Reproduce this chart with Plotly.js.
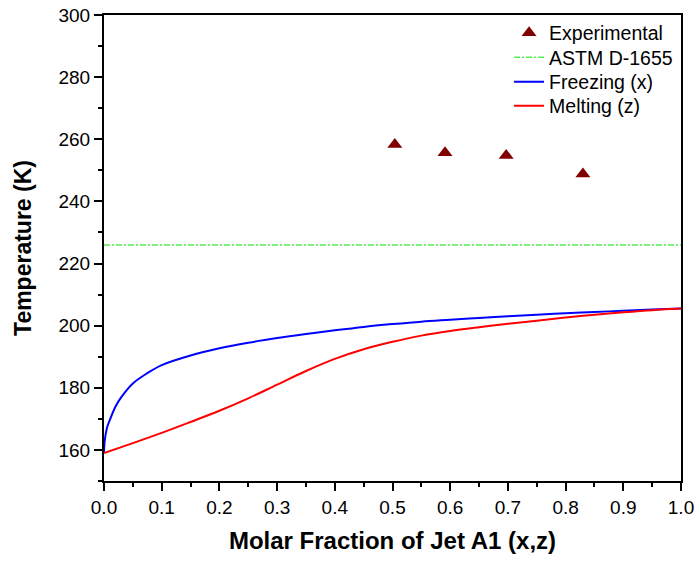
<!DOCTYPE html>
<html>
<head>
<meta charset="utf-8">
<script src="https://cdn.plot.ly/plotly-3.0.1.min.js"></script>
<style>html,body{margin:0;padding:0;background:#fff;}#chart{width:696px;height:561px;}</style>
</head>
<body>
<div id="chart"></div>
<script>
// Experimental data
const expX = [0.504, 0.591, 0.697, 0.830];
const expY = [258.3, 255.7, 254.8, 248.8];

// ASTM D-1655 limit
const astmX = [0, 1];
const astmY = [226, 226];

// Freezing curve (x)
const freezeX = [0, 0.001, 0.005, 0.01, 0.02, 0.03, 0.05, 0.075, 0.1, 0.15, 0.2, 0.25, 0.3, 0.35, 0.4, 0.45, 0.5, 0.55, 0.6, 0.65, 0.7, 0.75, 0.8, 0.85, 0.9, 0.95, 1.0];
const freezeY = [159, 162.5, 167, 169.6, 174, 177, 181.4, 184.7, 187.3, 190.4, 192.7, 194.5, 196.0, 197.3, 198.5, 199.6, 200.5, 201.3, 201.9, 202.5, 203.0, 203.5, 204.0, 204.4, 204.8, 205.2, 205.5];

// Melting curve (z)
const meltX = [0, 0.05, 0.1, 0.15, 0.2, 0.25, 0.3, 0.35, 0.4, 0.45, 0.5, 0.55, 0.6, 0.65, 0.7, 0.75, 0.8, 0.85, 0.9, 0.95, 1.0];
const meltY = [159, 162.2, 165.5, 169.0, 172.6, 176.6, 181.0, 185.4, 189.3, 192.4, 194.8, 196.8, 198.3, 199.5, 200.6, 201.6, 202.6, 203.5, 204.3, 205.0, 205.5];

const names = ['Experimental', 'ASTM D-1655', 'Freezing (x)', 'Melting (z)'];

const traces = [
  {x: expX, y: expY, name: names[0], type: 'scatter', mode: 'markers', legend: 'legend',
   marker: {symbol: 'triangle-up', size: 13, color: '#800000'}},
  {x: astmX, y: astmY, name: names[1], type: 'scatter', mode: 'lines', legend: 'legend2',
   line: {color: 'rgb(80,240,80)', width: 1.5, dash: '6px,2px,2px,2px'}},
  {x: freezeX, y: freezeY, name: names[2], type: 'scatter', mode: 'lines', legend: 'legend3',
   line: {color: '#0000ff', width: 2, shape: 'spline', smoothing: 1}},
  {x: meltX, y: meltY, name: names[3], type: 'scatter', mode: 'lines', legend: 'legend4',
   line: {color: '#ff0000', width: 2, shape: 'spline', smoothing: 1}}
];

const fontFam = 'Liberation Sans, Arial, sans-serif';
const legFont = {family: fontFam, size: 19.5, color: '#000'};
function leg(y) {
  return {x: 0.702, y: y, xanchor: 'left', yanchor: 'middle', bgcolor: 'rgba(0,0,0,0)', font: legFont};
}

const layout = {
  width: 696, height: 561,
  margin: {l: 104, r: 15, t: 15, b: 80, autoexpand: false},
  paper_bgcolor: '#fff', plot_bgcolor: '#fff',
  font: {family: fontFam, size: 19, color: '#000'},
  showlegend: true,
  legend: leg(0.9614),
  legend2: leg(0.9088),
  legend3: leg(0.8562),
  legend4: leg(0.8047),
  xaxis: {
    range: [0, 1], dtick: 0.1, tick0: 0, tickformat: '.1f',
    showgrid: false, zeroline: false,
    showline: true, linecolor: '#000', linewidth: 2, mirror: true,
    ticks: 'outside', ticklen: 8, tickwidth: 2, tickcolor: '#000',
    minor: {ticks: 'outside', ticklen: 4, tickwidth: 2, tickcolor: '#000', dtick: 0.05, showgrid: false},
    tickfont: {family: fontFam, size: 19},
    title: {text: '<b>Molar Fraction of Jet A1 (x,z)</b>', font: {family: fontFam, size: 24}, standoff: 15}
  },
  yaxis: {
    range: [150, 300], dtick: 20, tick0: 160,
    showgrid: false, zeroline: false,
    showline: true, linecolor: '#000', linewidth: 2, mirror: true,
    ticks: 'outside', ticklen: 8, tickwidth: 2, tickcolor: '#000',
    minor: {ticks: 'outside', ticklen: 4, tickwidth: 2, tickcolor: '#000', dtick: 10, showgrid: false},
    tickfont: {family: fontFam, size: 19},
    title: {text: '<b>Temperature (K)</b>', font: {family: fontFam, size: 23}, standoff: 20}
  }
};

Plotly.newPlot('chart', traces, layout, {displayModeBar: false, staticPlot: true});
</script>
</body>
</html>
